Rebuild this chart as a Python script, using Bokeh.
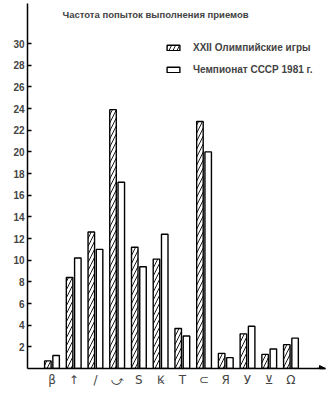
from bokeh.plotting import figure
from bokeh.models import (Range1d, FixedTicker, Label, Legend, LegendItem,
                          ColumnDataSource, Arrow, NormalHead)
from bokeh.transform import dodge
from bokeh.embed import file_html
from bokeh.resources import INLINE

# ---- data ----
groups = ["β", "↑", "/", "⤻", "S", "Ꝃ", "T", "⊂", "Я", "У", "⊻", "Ω"]
olympic = [0.7, 8.4, 12.6, 23.9, 11.2, 10.1, 3.7, 22.8, 1.4, 3.2, 1.3, 2.2]
ussr = [1.2, 10.2, 11.0, 17.2, 9.4, 12.4, 3.0, 20.0, 1.0, 3.9, 1.8, 2.8]
y_ticks = list(range(2, 31, 2))
title_text = "Частота попыток выполнения приемов"
series_names = ["XXII Олимпийские игры", "Чемпионат СССР 1981 г."]
x_title = "Группы приемов"

pos = list(range(1, len(groups) + 1))
src = ColumnDataSource(dict(x=pos, olympic=olympic, ussr=ussr))

FONT = "Liberation Sans"

p = figure(width=330, height=400, output_backend="svg", toolbar_location=None,
           x_range=Range1d(-0.127, 13.59), y_range=Range1d(0, 33.7),
           min_border_left=27, min_border_right=5, min_border_top=3,
           min_border_bottom=32)
p.outline_line_color = None
p.xgrid.visible = False
p.ygrid.visible = False
p.background_fill_color = "white"

r1 = p.vbar(x=dodge("x", -0.19), top="olympic", width=0.3, source=src,
            fill_color="white", line_color="black", line_width=1.4,
            hatch_pattern="/", hatch_color="black", hatch_scale=8,
            hatch_weight=0.9)
r2 = p.vbar(x=dodge("x", 0.19), top="ussr", width=0.3, source=src,
            fill_color="white", line_color="black", line_width=1.4)

# axes
p.yaxis.ticker = FixedTicker(ticks=y_ticks)
p.yaxis.major_tick_in = 4
p.yaxis.major_tick_out = 0
p.yaxis.minor_tick_line_color = None
p.yaxis.axis_line_width = 1.5
p.yaxis.major_tick_line_width = 1.5
p.yaxis.major_label_standoff = 3
p.yaxis.major_label_text_font = FONT
p.yaxis.major_label_text_font_style = "bold"
p.yaxis.major_label_text_font_size = "10px"

p.xaxis.ticker = FixedTicker(ticks=pos)
p.xaxis.major_label_overrides = {i: g for i, g in zip(pos, groups)}
p.xaxis.major_tick_in = 0
p.xaxis.major_tick_out = 0
p.xaxis.minor_tick_line_color = None
p.xaxis.axis_line_width = 1.5
p.xaxis.major_label_standoff = 4
p.xaxis.major_label_text_font = "DejaVu Sans"
p.xaxis.major_label_text_font_size = "12px"

p.add_layout(Arrow(end=NormalHead(size=6, fill_color="black", line_color="black"),
                   x_start=13.2, y_start=0, x_end=13.59, y_end=0,
                   line_color="black", line_width=1.5))

# texts
p.add_layout(Label(x=1.483, y=32.7, text=title_text, text_font=FONT,
                   text_font_style="bold", text_font_size="9.5px",
                   text_baseline="middle", text_align="left"))
p.add_layout(Label(x=-0.54, y=32.7, text="%", text_font=FONT,
                   text_font_style="bold", text_font_size="10px",
                   text_baseline="middle", text_align="center"))
p.add_layout(Label(x=13.36, y=-2.0, text=x_title, text_font=FONT,
                   text_font_style="bold", text_font_size="9px",
                   text_baseline="middle", text_align="right"))

legend = Legend(items=[LegendItem(label=series_names[0], renderers=[r1]),
                       LegendItem(label=series_names[1], renderers=[r2])],
                location=(138, 293), orientation="vertical",
                glyph_width=16, glyph_height=7, label_height=7,
                label_standoff=12, spacing=11, padding=0, margin=0,
                background_fill_alpha=0, border_line_alpha=0,
                label_text_font=FONT, label_text_font_style="bold",
                label_text_font_size="10px")
p.add_layout(legend)

open("out.html", "w").write(file_html(p, INLINE))
